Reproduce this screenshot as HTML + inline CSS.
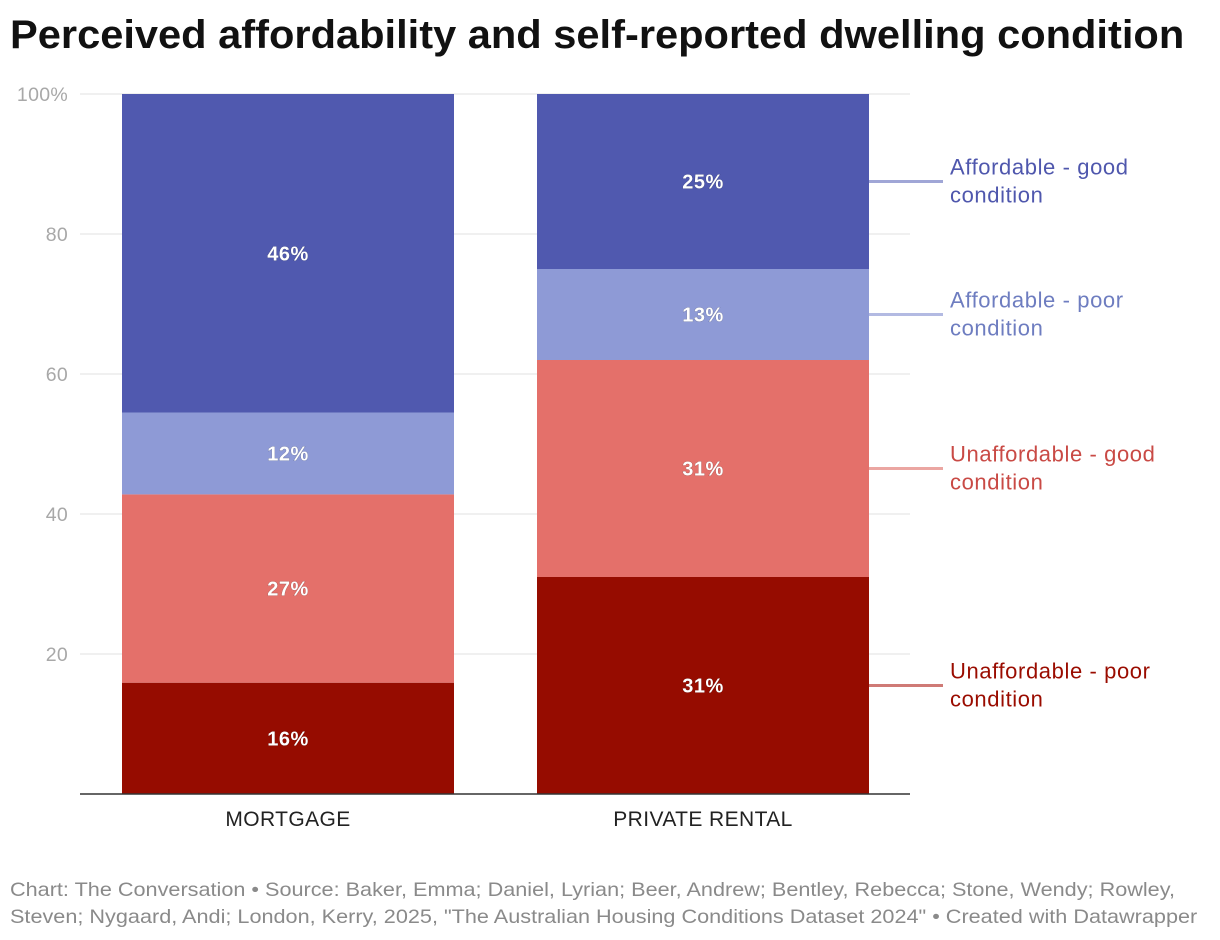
<!DOCTYPE html>
<html><head><meta charset="utf-8">
<style>
body{margin:0;background:#fff;font-family:"Liberation Sans",sans-serif;}
#wrap{position:relative;width:1220px;height:940px;overflow:hidden}
h1{position:absolute;left:10px;top:13px;margin:0;font-size:40px;font-weight:bold;color:#111;white-space:nowrap;transform:scaleX(1.04);transform-origin:0 0}
.foot{position:absolute;left:10px;top:877px;font-size:19.5px;color:#8a8a8a;line-height:27px;white-space:nowrap;transform:scaleX(1.11);transform-origin:0 0}
svg text{font-family:"Liberation Sans",sans-serif}
</style></head><body>
<div id="wrap">
<h1>Perceived affordability and self-reported dwelling condition</h1>
<svg id="chart" width="1220" height="940" style="position:absolute;left:0;top:0"></svg>
<div class="foot">Chart: The Conversation • Source: Baker, Emma; Daniel, Lyrian; Beer, Andrew; Bentley, Rebecca; Stone, Wendy; Rowley,<br>Steven; Nygaard, Andi; London, Kerry, 2025, "The Australian Housing Conditions Dataset 2024" • Created with Datawrapper</div>
</div>
<script>
const categories=["MORTGAGE","PRIVATE RENTAL"];
const seriesNames=["Unaffordable - poor condition","Unaffordable - good condition","Affordable - poor condition","Affordable - good condition"];
const unaffPoor=[15.9,31.0];
const unaffGood=[26.9,31.0];
const affPoor=[11.7,13.0];
const affGood=[45.5,25.0];
const valueLabels=[["16%","31%"],["27%","31%"],["12%","13%"],["46%","25%"]];
const yTicks=[0,20,40,60,80,100];
const legendLines=[["Unaffordable - poor","condition"],["Unaffordable - good","condition"],["Affordable - poor","condition"],["Affordable - good","condition"]];

const series=[unaffPoor,unaffGood,affPoor,affGood];
const fills=["#960c00","#e4706a","#8e9ad6","#5059af"];
const legColors=["#9a0c00","#c94a45","#6e7dc0","#4f57ad"];
const lineColors=["#cf7a76","#eba6a2","#b3bae2","#a0a6d6"];
const svg=document.getElementById('chart');
const NS="http://www.w3.org/2000/svg";
const y0=794,y1=94,xL=80,xR=910;
const y=v=>y0-(v/100)*(y0-y1);
const barX=[122,537],barW=332;
function mk(t,a){const e=document.createElementNS(NS,t);for(const k in a)e.setAttribute(k,a[k]);svg.appendChild(e);return e;}
yTicks.forEach(t=>{
  if(t>0){const g=mk('line',{x1:xL,x2:xR,y1:y(t),y2:y(t),stroke:'#e2e2e2','stroke-width':1});
  
  }
  if(t>0){const tx=mk('text',{x:68,y:y(t)+7,'text-anchor':'end','font-size':19.5,fill:'#a8a8a8','letter-spacing':0.3});
  tx.textContent=t===100?'100%':t;
  
  }
});
categories.forEach((c,i)=>{
  let cum=0;
  series.forEach((s,j)=>{
    const top=cum+s[i];
    const r=mk('rect',{x:barX[i],width:barW,y:y(top),height:y(cum)-y(top),fill:fills[j]});
    
    
    const t=mk('text',{x:barX[i]+barW/2,y:(y(cum)+y(top))/2+7,'text-anchor':'middle','font-size':20,'font-weight':'bold',fill:'#fff',stroke:'rgba(0,0,0,0.35)','stroke-width':0.6,'paint-order':'stroke','letter-spacing':0.5});
    t.textContent=valueLabels[j][i];
    
    
    if(i===categories.length-1){
      const my=(y(cum)+y(top))/2;
      const l=mk('line',{x1:barX[i]+barW,x2:943,y1:my,y2:my,stroke:lineColors[j],'stroke-width':3});
      
      
      legendLines[j].forEach((ln,k)=>{
        const lt=mk('text',{x:950,y:my-7+k*28,'font-size':22,fill:legColors[j],'letter-spacing':0.6});
        lt.textContent=ln;
        
        
      });
    }
    cum=top;
  });
  const ct=mk('text',{x:barX[i]+barW/2,y:826,'text-anchor':'middle','font-size':21,fill:'#222','letter-spacing':0.4});
  ct.textContent=c;
  
  
});
const ax=mk('line',{x1:xL,x2:xR,y1:y0,y2:y0,stroke:'#333','stroke-width':1.5});


</script>
</body></html>
